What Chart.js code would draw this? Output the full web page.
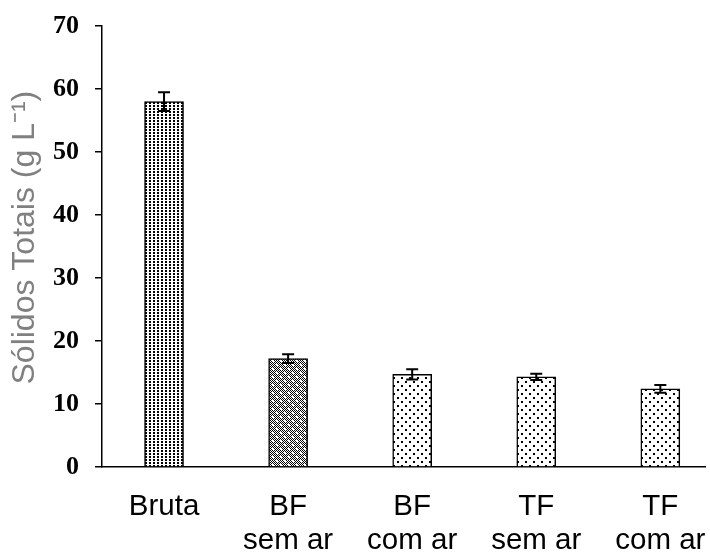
<!DOCTYPE html>
<html>
<head>
<meta charset="utf-8">
<script src="https://cdn.jsdelivr.net/npm/chart.js@4/dist/chart.umd.min.js"></script>
<style>
html,body{margin:0;padding:0;background:#fff;overflow:hidden;}
#wrap{width:710px;height:556px;position:relative;}
</style>
</head>
<body>
<div id="wrap"><canvas id="c" width="710" height="556"></canvas></div>
<script>
const categories = [["Bruta"], ["BF", "sem ar"], ["BF", "com ar"], ["TF", "sem ar"], ["TF", "com ar"]];
const values = [58.0, 17.2, 14.7, 14.3, 12.4];
const errors = [1.5, 0.7, 0.8, 0.5, 0.6];
const yTicks = [0, 10, 20, 30, 40, 50, 60, 70];
const patternKinds = ["dense", "dark", "sparse", "sparse", "sparse"];

function makePattern(kind) {
  const c = document.createElement('canvas');
  const ctx = c.getContext('2d');
  if (kind === 'dense') {
    c.width = 4; c.height = 3;
    ctx.fillStyle = '#fff'; ctx.fillRect(0, 0, 4, 3);
    ctx.fillStyle = '#000'; ctx.fillRect(1, 0, 2, 2);
  } else if (kind === 'dark') {
    c.width = 8; c.height = 8;
    ctx.fillStyle = '#fff'; ctx.fillRect(0, 0, 8, 8);
    ctx.fillStyle = '#000';
    for (let y = 0; y < 8; y++) for (let x = 0; x < 8; x++) if ((x + y) % 2 === 0) ctx.fillRect(x, y, 1, 1);
    ctx.fillStyle = '#fff'; ctx.fillRect(4, 4, 2, 2); ctx.fillRect(0, 0, 2, 2);
  } else {
    c.width = 8; c.height = 8;
    ctx.fillStyle = '#fff'; ctx.fillRect(0, 0, 8, 8);
    ctx.fillStyle = '#000'; ctx.fillRect(1, 1, 2, 2); ctx.fillRect(5, 5, 2, 2);
  }
  return ctx.createPattern(c, 'repeat');
}

const errorBars = {
  id: 'errorBars',
  afterDatasetsDraw(chart) {
    const ctx = chart.ctx;
    const meta = chart.getDatasetMeta(0);
    const ys = chart.scales.y;
    ctx.save();
    ctx.strokeStyle = '#000';
    ctx.lineWidth = 2;
    meta.data.forEach((bar, i) => {
      const x = bar.x;
      const t = ys.getPixelForValue(values[i] + errors[i]);
      const b = ys.getPixelForValue(values[i] - errors[i]);
      ctx.beginPath();
      ctx.moveTo(x, t); ctx.lineTo(x, b);
      ctx.moveTo(x - 6, t); ctx.lineTo(x + 6, t);
      ctx.moveTo(x - 6, b); ctx.lineTo(x + 6, b);
      ctx.stroke();
    });
    ctx.restore();
  }
};

new Chart(document.getElementById('c'), {
  type: 'bar',
  data: {
    datasets: [{
      data: values.map((v, i) => ({ x: i, y: v })),
      backgroundColor: patternKinds.map(makePattern),
      borderColor: '#000',
      borderWidth: 1.5,
      barThickness: 39
    }]
  },
  options: {
    responsive: false,
    animation: false,
    layout: { padding: { top: 26, right: 5, left: 0, bottom: 0 } },
    plugins: { legend: { display: false }, tooltip: { enabled: false } },
    scales: {
      x: {
        type: 'linear',
        offset: false,
        min: -0.5,
        max: 4.36,
        afterBuildTicks(scale) { scale.ticks = categories.map((_, i) => ({ value: i })); },
        afterFit(scale) { scale.height = 89; scale.paddingLeft = 0; scale.paddingRight = 0; },
        grid: { display: false },
        border: { display: true, color: '#000', width: 1.5 },
        ticks: {
          color: '#000',
          autoSkip: false,
          maxRotation: 0,
          padding: 15,
          font: { family: 'Liberation Sans, Arial', size: 29.5, lineHeight: 1.15 },
          callback: (v) => categories[v]
        }
      },
      y: {
        min: 0,
        max: 70,
        afterBuildTicks(scale) { scale.ticks = yTicks.map(v => ({ value: v })); },
        afterFit(scale) { scale.width = 102; scale.paddingTop = 0; scale.paddingBottom = 0; },
        grid: { display: true, drawOnChartArea: false, drawTicks: true, tickLength: 7, color: '#000', lineWidth: 1.5 },
        border: { display: true, color: '#000', width: 1.5 },
        ticks: {
          color: '#000',
          padding: 16,
          font: { family: 'Liberation Serif, Times New Roman', size: 26, weight: 'bold' }
        },
        title: {
          display: true,
          text: '  Sólidos Totais (g L⁻¹)',
          color: '#808080',
          padding: { top: 6, bottom: 0 },
          font: { family: 'Liberation Sans, Arial', size: 32 }
        }
      }
    }
  },
  plugins: [errorBars]
});
</script>
</body>
</html>
